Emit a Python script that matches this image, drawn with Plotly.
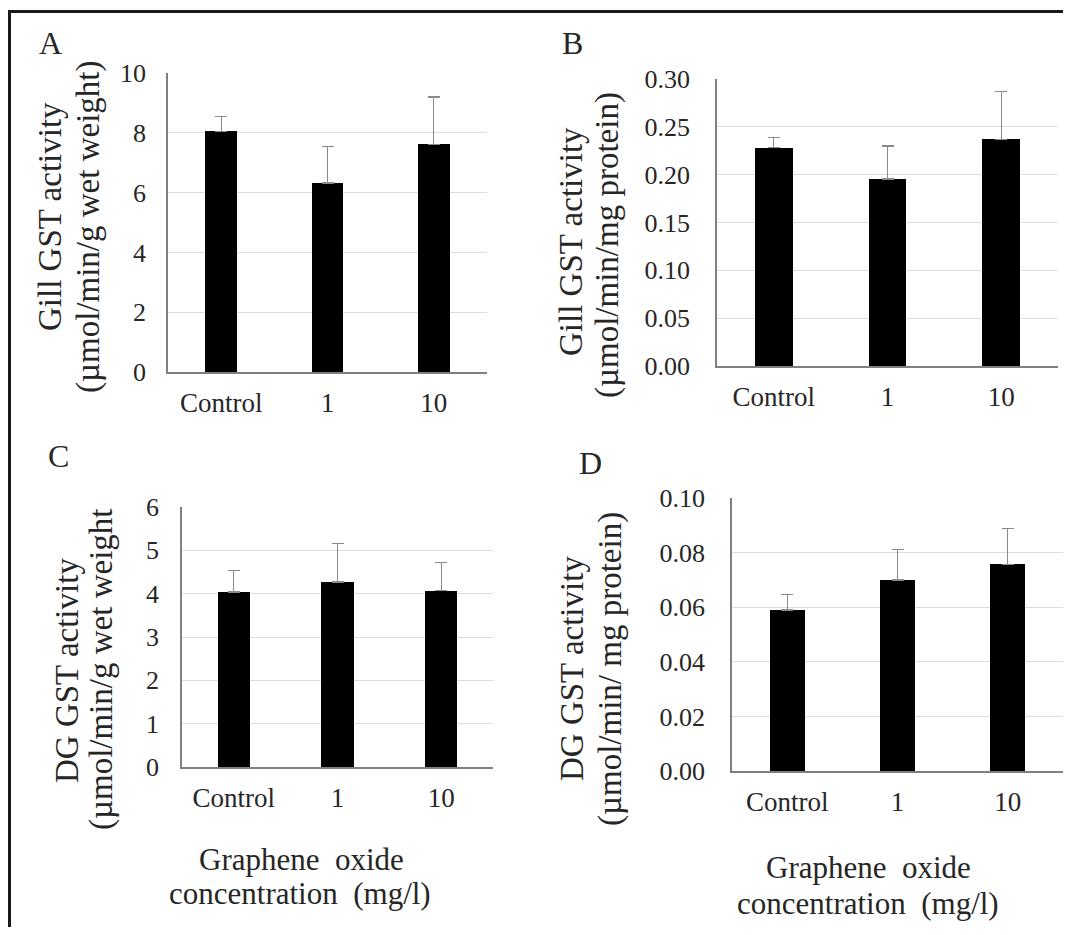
import plotly.graph_objects as go

# Page is 1071x935; the HTML body keeps an 8px margin on every side, so the
# figure is drawn 16px smaller and page-pixel positions are shifted by OFF.
PAGE_W, PAGE_H = 1071, 935
OFF = 8
W, H = PAGE_W - 2 * OFF, PAGE_H - 2 * OFF

categories = ["Control", "1", "10"]

gill_ww_mean = [8.05, 6.32, 7.62]
gill_ww_err = [0.50, 1.21, 1.58]

gill_prot_mean = [0.228, 0.1955, 0.237]
gill_prot_err = [0.011, 0.0345, 0.050]

dg_ww_mean = [4.04, 4.27, 4.07]
dg_ww_err = [0.49, 0.88, 0.65]

dg_prot_mean = [0.059, 0.070, 0.0757]
dg_prot_err = [0.0057, 0.011, 0.0132]

panel_letters = ["A", "B", "C", "D"]
y_title_line1 = ["Gill GST activity", "Gill GST activity", "DG GST activity", "DG GST activity"]
y_title_line2 = ["(µmol/min/g wet weight)", "(µmol/min/mg protein)",
                 "(µmol/min/g wet weight", "(µmol/min/ mg protein)"]
x_title_line1 = "Graphene  oxide"
x_title_line2 = "concentration  (mg/l)"

FONT = "Liberation Serif"
TXT = "#262626"


def px(X):
    return (X - OFF) / W


def py(Y):
    return 1 - (Y - OFF) / H


# page-pixel boxes of plot areas: (left, right, top, bottom)
boxes = [
    (168, 487, 73, 372),
    (717, 1058, 79, 366),
    (182, 493, 507, 767),
    (732, 1063, 498, 771),
]
bar_widths = [0.30, 0.33, 0.31, 0.32]
ranges = [[0, 10], [0, 0.30], [0, 6], [0, 0.10]]
dticks = [2, 0.05, 1, 0.02]
fmts = ["d", ".2f", "d", ".2f"]
ystandoff = [15, 20, 16, 20]

series = [
    (gill_ww_mean, gill_ww_err),
    (gill_prot_mean, gill_prot_err),
    (dg_ww_mean, dg_ww_err),
    (dg_prot_mean, dg_prot_err),
]

fig = go.Figure()
layout = dict(
    width=W, height=H,
    margin=dict(l=0, r=0, t=0, b=0, pad=0, autoexpand=False),
    paper_bgcolor="white", plot_bgcolor="white",
    showlegend=False,
    font=dict(family=FONT, color=TXT),
    bargap=0,
)

for i, ((mean, err), box) in enumerate(zip(series, boxes)):
    n = i + 1
    xa = "x" if n == 1 else f"x{n}"
    ya = "y" if n == 1 else f"y{n}"
    fig.add_trace(go.Bar(
        x=categories, y=mean, xaxis=xa, yaxis=ya,
        width=bar_widths[i],
        marker=dict(color="black", line=dict(width=0)),
        error_y=dict(type="data", array=err, arrayminus=[0] * len(err),
                     symmetric=False, color="#8a8a8a", thickness=1.2, width=6),
    ))
    l, r, t, b = box
    xkey = "xaxis" if n == 1 else f"xaxis{n}"
    ykey = "yaxis" if n == 1 else f"yaxis{n}"
    layout[xkey] = dict(
        domain=[px(l), px(r)], anchor=ya, type="category",
        categoryorder="array", categoryarray=categories,
        automargin=False,
        showline=True, linecolor="#808080", linewidth=1.5,
        showgrid=False, ticks="", ticklabelstandoff=6,
        tickfont=dict(family=FONT, size=27, color=TXT),
    )
    layout[ykey] = dict(
        domain=[py(b), py(t)], anchor=xa,
        range=ranges[i], dtick=dticks[i], tickformat=fmts[i],
        automargin=False,
        showline=True, linecolor="#808080", linewidth=1.5,
        showgrid=True, gridcolor="#dcdcdc", gridwidth=1,
        zeroline=False, ticks="", ticklabelstandoff=ystandoff[i],
        tickfont=dict(family=FONT, size=26, color=TXT),
    )

fig.update_layout(**layout)

annotations = []


def ann(text, X, Y, size, angle=0):
    annotations.append(dict(text=text, x=px(X), y=py(Y), xref="paper", yref="paper",
                            showarrow=False, xanchor="center", yanchor="middle",
                            textangle=angle,
                            font=dict(family=FONT, size=size, color=TXT)))


# panel letters
for letter, (X, Y) in zip(panel_letters, [(50, 43), (572, 43), (58, 456), (590, 463)]):
    ann(letter, X, Y, 32)

# y titles, one annotation per line
line1_pos = [(50, 217), (571, 242), (67, 671), (572, 669)]
line2_pos = [(88, 227), (607, 245), (101, 670), (610, 669)]
for t1, t2, p1, p2 in zip(y_title_line1, y_title_line2, line1_pos, line2_pos):
    ann(t1, p1[0], p1[1], 33, -90)
    ann(t2, p2[0], p2[1], 33, -90)

# x titles (bottom panels)
for (X1, Y1), (X2, Y2) in [((301, 859), (300, 893)), ((868, 867), (868, 903))]:
    ann(x_title_line1, X1, Y1, 31)
    ann(x_title_line2, X2, Y2, 31)

fig.update_layout(annotations=annotations)

# outer frame (left and top edges visible, others fall outside the page)
fig.add_shape(type="rect", xref="paper", yref="paper",
              x0=px(9.5), x1=1.05, y0=-0.1, y1=py(11.5),
              line=dict(color="#1a1a1a", width=3), fillcolor="rgba(0,0,0,0)")

fig.write_html("out.html")
